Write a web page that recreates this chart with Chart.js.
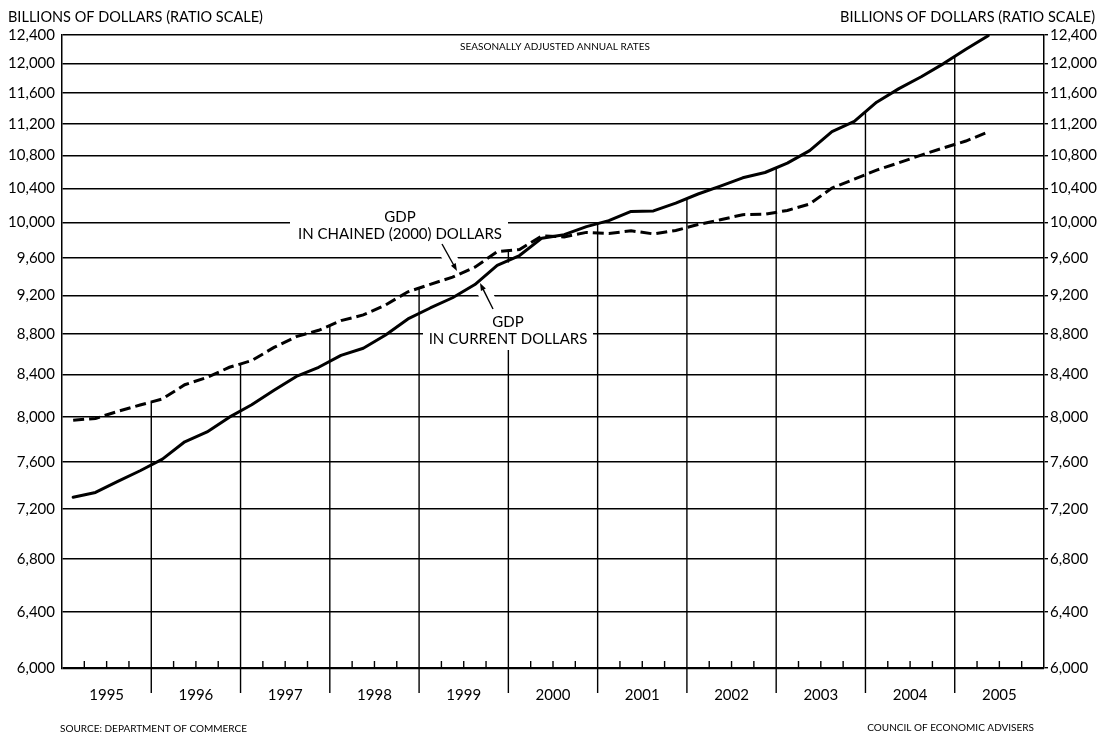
<!DOCTYPE html>
<html>
<head>
<meta charset="utf-8">
<script src="https://cdn.jsdelivr.net/npm/chart.js@4.4.1/dist/chart.umd.min.js"></script>
<style>
  html, body { margin: 0; padding: 0; background: #fff; }
</style>
</head>
<body>
<canvas id="myChart" width="1100" height="736"></canvas>
<script>
// quarterly, seasonally adjusted annual rates, billions of dollars
var years = [1995, 1996, 1997, 1998, 1999, 2000, 2001, 2002, 2003, 2004, 2005];
var gdpCurrent = [
  7298, 7338, 7432, 7523,   7624, 7777, 7866, 8000,
  8114, 8250, 8382, 8471,   8587, 8658, 8790, 8954,
  9067, 9174, 9314, 9520,   9629, 9823, 9862, 9954,
  10022, 10129, 10135, 10226, 10333, 10427, 10527, 10591,
  10706, 10860, 11100, 11230, 11480, 11660, 11820, 12000,
  12200, 12390
];
var gdpChained = [
  7972, 7988, 8053, 8112,   8169, 8303, 8373, 8471,
  8536, 8666, 8774, 8838,   8936, 8995, 9099, 9237,
  9316, 9393, 9502, 9671,   9696, 9848, 9837, 9888,
  9876, 9906, 9871, 9910,   9977, 10032, 10091, 10096,
  10140, 10215, 10405, 10510, 10620, 10710, 10805, 10895,
  10980, 11095
];
var yTicks = [6000, 6400, 6800, 7200, 7600, 8000, 8400, 8800, 9200, 9600,
              10000, 10400, 10800, 11200, 11600, 12000, 12400];

var FONT = 'Lato, "Open Sans", sans-serif';

// x position of each quarter: middle of the quarter
function toPoints(vals) {
  var pts = [];
  for (var i = 0; i < vals.length; i++) {
    pts.push({ x: years[0] + (i + 0.5) / 4, y: vals[i] });
  }
  return pts;
}

function seg(ctx, x1, y1, x2, y2) {
  ctx.beginPath();
  ctx.moveTo(x1, y1);
  ctx.lineTo(x2, y2);
  ctx.stroke();
}

function arrow(ctx, x1, y1, x2, y2) {
  // white halo first so the grid is cut where the arrow crosses it
  ctx.strokeStyle = '#fff';
  ctx.lineWidth = 14;
  seg(ctx, x1, y1, x2, y2);
  ctx.strokeStyle = '#000';
  ctx.lineWidth = 1.4;
  var ang = Math.atan2(y2 - y1, x2 - x1);
  seg(ctx, x1, y1, x2 - 6 * Math.cos(ang), y2 - 6 * Math.sin(ang));
  ctx.beginPath();
  ctx.moveTo(x2, y2);
  ctx.lineTo(x2 - 8 * Math.cos(ang - 0.35), y2 - 8 * Math.sin(ang - 0.35));
  ctx.lineTo(x2 - 8 * Math.cos(ang + 0.35), y2 - 8 * Math.sin(ang + 0.35));
  ctx.closePath();
  ctx.fill();
}

function label(ctx, lines, cx, baselines, box) {
  ctx.fillStyle = '#fff';
  ctx.fillRect(box[0], box[1], box[2] - box[0], box[3] - box[1]);
  ctx.fillStyle = '#000';
  ctx.font = '15px ' + FONT;
  ctx.textAlign = 'center';
  ctx.textBaseline = 'alphabetic';
  for (var i = 0; i < lines.length; i++) ctx.fillText(lines[i], cx, baselines[i]);
}

var decor = {
  id: 'decor',
  beforeDatasetsDraw: function(chart) {
    var ctx = chart.ctx, a = chart.chartArea, xs = chart.scales.x;
    var m0 = chart.getDatasetMeta(0).data, m1 = chart.getDatasetMeta(1).data;
    ctx.save();
    ctx.strokeStyle = '#000';
    ctx.fillStyle = '#000';
    ctx.lineWidth = 1.4;
    // quarter ticks along the bottom
    for (var i = 0; i < years.length; i++) {
      for (var q = 1; q < 4; q++) {
        var px = xs.getPixelForValue(years[i] + q / 4);
        seg(ctx, px, a.bottom, px, a.bottom - 7);
      }
    }
    // year dividers, up to the upper curve
    for (var k = 1; k < years.length; k++) {
      var j = k * 4 - 1;
      var top = Math.min((m0[j].y + m0[j + 1].y) / 2, (m1[j].y + m1[j + 1].y) / 2);
      var bx = xs.getPixelForValue(years[k]);
      if (years[k] === 2000) {
        // cut behind the "current dollars" note
        seg(ctx, bx, top, bx, top + 12);
        seg(ctx, bx, 350, bx, a.bottom + 25);
      } else {
        seg(ctx, bx, top, bx, a.bottom + 25);
      }
    }
    // annotations
    label(ctx, ['GDP', 'IN CHAINED (2000) DOLLARS'], 400, [222, 239], [290, 205, 508, 245]);
    label(ctx, ['GDP', 'IN CURRENT DOLLARS'], 508, [327, 344], [423, 311, 593, 350]);
    arrow(ctx, 442, 244, 457, 271);
    arrow(ctx, 493, 309, 480, 283);
    ctx.restore();
  },
  afterDraw: function(chart) {
    var ctx = chart.ctx;
    ctx.save();
    ctx.fillStyle = '#000';
    ctx.textBaseline = 'alphabetic';
    ctx.font = '14.5px ' + FONT;
    ctx.textAlign = 'left';
    ctx.fillText('BILLIONS OF DOLLARS (RATIO SCALE)', 8, 22);
    ctx.textAlign = 'right';
    ctx.fillText('BILLIONS OF DOLLARS (RATIO SCALE)', 1095, 22);
    ctx.font = '10px ' + FONT;
    ctx.textAlign = 'center';
    ctx.fillText('SEASONALLY ADJUSTED ANNUAL RATES', 555, 50);
    ctx.textAlign = 'left';
    ctx.fillText('SOURCE: DEPARTMENT OF COMMERCE', 60, 732);
    ctx.textAlign = 'right';
    ctx.fillText('COUNCIL OF ECONOMIC ADVISERS', 1034, 731);
    ctx.restore();
  }
};

var tickFmt = function(v) { return Number(v).toLocaleString('en-US'); };
var setTicks = function(scale) { scale.ticks = yTicks.map(function(v) { return { value: v }; }); };

var ctx = document.getElementById('myChart');
var chart = new Chart(ctx, {
  type: 'line',
  data: {
    datasets: [
      {
        label: 'GDP in current dollars',
        data: toPoints(gdpCurrent),
        borderColor: '#000',
        borderWidth: 3,
        pointRadius: 0,
        tension: 0,
        borderJoinStyle: 'round',
        borderCapStyle: 'round'
      },
      {
        label: 'GDP in chained (2000) dollars',
        data: toPoints(gdpChained),
        borderColor: '#000',
        borderWidth: 3,
        borderDash: [11, 5],
        pointRadius: 0,
        tension: 0
      }
    ]
  },
  options: {
    responsive: false,
    animation: false,
    devicePixelRatio: 1,
    events: [],
    layout: { padding: { top: 35, left: 0, right: 0, bottom: 0 } },
    plugins: { legend: { display: false }, tooltip: { enabled: false } },
    scales: {
      x: {
        type: 'linear',
        position: 'bottom',
        min: years[0],
        max: years[years.length - 1] + 1,
        afterBuildTicks: function(scale) {
          scale.ticks = years.map(function(y) { return { value: y + 0.5 }; });
        },
        afterFit: function(scale) { scale.height = 68; },
        grid: { display: false },
        border: { display: false },
        ticks: {
          autoSkip: false, maxRotation: 0, minRotation: 0, padding: 10,
          color: '#000', font: { family: FONT, size: 15 },
          callback: function(v) { return String(Math.floor(v)); }
        }
      },
      y: {
        type: 'logarithmic',
        position: 'left',
        min: 6000,
        max: 12400,
        afterBuildTicks: setTicks,
        afterFit: function(scale) { scale.width = 62; },
        grid: {
          color: '#000',
          lineWidth: function(c) { return c.tick && c.tick.value === 6000 ? 2.2 : 1.4; },
          drawTicks: false
        },
        border: { display: true, color: '#000', width: 1.5 },
        ticks: { padding: 7, color: '#000', font: { family: FONT, size: 15 }, callback: tickFmt }
      },
      y2: {
        type: 'logarithmic',
        position: 'right',
        min: 6000,
        max: 12400,
        afterBuildTicks: setTicks,
        afterFit: function(scale) { scale.width = 56; },
        grid: { drawOnChartArea: false, drawTicks: true, tickLength: 4, color: '#000', lineWidth: 1.4 },
        border: { display: true, color: '#000', width: 1.5 },
        ticks: { padding: 2, color: '#000', font: { family: FONT, size: 15 }, callback: tickFmt }
      }
    }
  },
  plugins: [decor]
});
</script>
</body>
</html>
